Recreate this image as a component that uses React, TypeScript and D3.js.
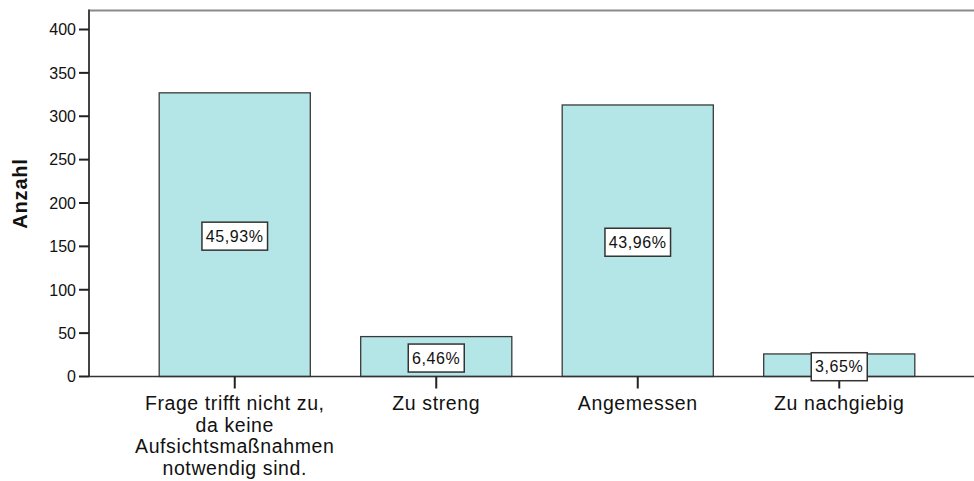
import React from "react";
import * as d3 from "d3";

const categories: string[][] = [
  ["Frage trifft nicht zu,", "da keine", "Aufsichtsmaßnahmen", "notwendig sind."],
  ["Zu streng"],
  ["Angemessen"],
  ["Zu nachgiebig"],
];
const counts: number[] = [327, 46, 313, 26];
const percentLabels: string[] = ["45,93%", "6,46%", "43,96%", "3,65%"];
const yTicks: number[] = [0, 50, 100, 150, 200, 250, 300, 350, 400];
const yTitle = "Anzahl";

const W = 974;
const H = 481;
const FONT = "Arial, 'Liberation Sans', sans-serif";

export default function App() {
  const left = 89;
  const right = 974;
  const top = 10.5;
  const bottom = 376.5;
  const y = d3.scaleLinear().domain([0, 400]).range([bottom, 29.5]);
  const keys = categories.map((_, i) => String(i));
  const x = d3
    .scaleBand<string>()
    .domain(keys)
    .range([134, 940])
    .paddingInner(0.25)
    .paddingOuter(0.125);
  const bw = x.bandwidth();

  return (
    <svg
      width={W}
      height={H}
      style={{ position: "absolute", left: 0, top: 0, background: "#fff" }}
      fontFamily={FONT}
    >
      {/* top frame */}
      <line x1={left} x2={right} y1={top} y2={top} stroke="#8a8a8a" strokeWidth={2} />
      {/* bars */}
      {counts.map((c, i) => (
        <rect
          key={"b" + i}
          x={x(keys[i])!}
          y={y(c)}
          width={bw}
          height={bottom - y(c)}
          fill="#b4e6e7"
          stroke="#3a3a3a"
          strokeWidth={1.3}
        />
      ))}
      {/* axes */}
      <line x1={left} x2={left} y1={top - 1} y2={bottom} stroke="#444" strokeWidth={2} />
      <line x1={left} x2={right} y1={bottom} y2={bottom} stroke="#333" strokeWidth={1.6} />
      {yTicks.map((t) => (
        <g key={"t" + t}>
          <line x1={left - 10} x2={left} y1={y(t)} y2={y(t)} stroke="#222" strokeWidth={2} />
          <text
            x={left - 13}
            y={y(t)}
            dy="0.36em"
            textAnchor="end"
            fontSize={16}
            fill="#111"
          >
            {t}
          </text>
        </g>
      ))}
      {/* x ticks and labels */}
      {categories.map((lines, i) => {
        const cx = x(keys[i])! + bw / 2;
        return (
          <g key={"x" + i}>
            <line x1={cx} x2={cx} y1={bottom} y2={bottom + 12} stroke="#222" strokeWidth={2} />
            {lines.map((ln, j) => (
              <text
                key={j}
                x={cx}
                y={410 + j * 21.5}
                textAnchor="middle"
                fontSize={19.5}
                letterSpacing={0.6}
                fill="#111"
              >
                {ln}
              </text>
            ))}
          </g>
        );
      })}
      {/* percent labels */}
      {counts.map((c, i) => {
        const cx = x(keys[i])! + bw / 2;
        const cy = (y(c) + bottom) / 2 + 1.5;
        const tw = percentLabels[i].length * 9.6;
        const bh = 28;
        return (
          <g key={"p" + i}>
            <rect
              x={cx - tw / 2 - 4}
              y={cy - bh / 2}
              width={tw + 8}
              height={bh}
              fill="#fff"
              stroke="#333"
              strokeWidth={1.5}
            />
            <text
              x={cx}
              y={cy}
              dy="0.36em"
              textAnchor="middle"
              fontSize={16}
              letterSpacing={0.6}
              fill="#111"
            >
              {percentLabels[i]}
            </text>
          </g>
        );
      })}
      {/* y title */}
      <text
        transform={`translate(27, 193.5) rotate(-90)`}
        textAnchor="middle"
        fontSize={20}
        fontWeight="bold"
        letterSpacing={0.8}
        fill="#111"
      >
        {yTitle}
      </text>
    </svg>
  );
}
